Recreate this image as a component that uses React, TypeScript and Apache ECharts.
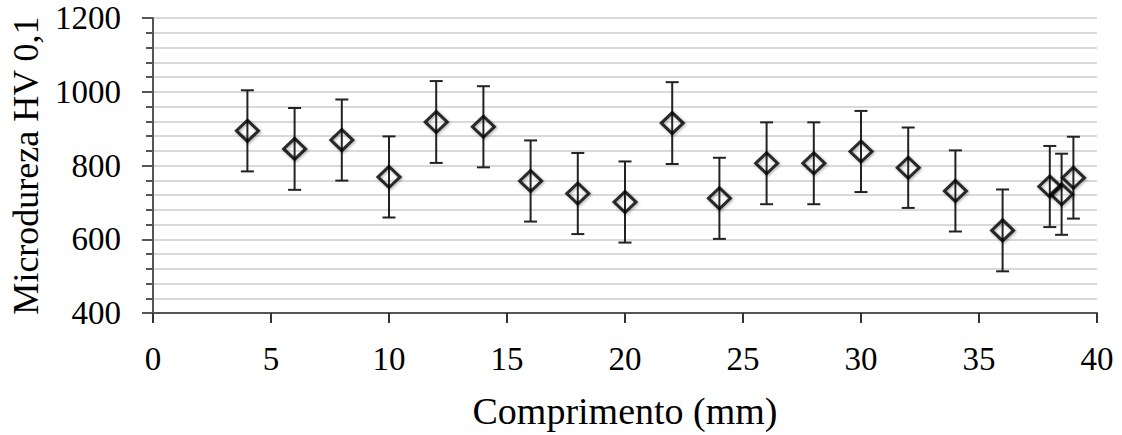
import React, { useEffect, useRef } from "react";
import * as echarts from "echarts";

const positions = [4, 6, 8, 10, 12, 14, 16, 18, 20, 22, 24, 26, 28, 30, 32, 34, 36, 38, 38.5, 39];
const hardness = [894, 845, 869, 769, 918, 905, 758, 724, 701, 915, 711, 806, 806, 838, 794, 731, 624, 743, 722, 767];
const errors = [110, 111, 110, 110, 111, 110, 110, 110, 110, 111, 110, 111, 111, 110, 109, 110, 111, 110, 110, 111];
const xTicks = [0, 5, 10, 15, 20, 25, 30, 35, 40];
const yTicks = [400, 600, 800, 1000, 1200];

const FONT = "Liberation Serif";

export default function App() {
  const ref = useRef<HTMLDivElement>(null);
  useEffect(() => {
    document.body.style.margin = "0";
    if (!ref.current) return;
    const chart = echarts.init(ref.current, null, { renderer: "svg" });
    const points = positions.map((x, i) => [x, hardness[i]]);
    const bars = positions.map((x, i) => [x, hardness[i] - errors[i], hardness[i] + errors[i]]);
    chart.setOption({
      animation: false,
      backgroundColor: "#ffffff",
      textStyle: { fontFamily: FONT },
      grid: { left: 151, right: 25, top: 18, bottom: 122, containLabel: false },
      xAxis: {
        type: "value",
        min: xTicks[0],
        max: xTicks[xTicks.length - 1],
        interval: 5,
        name: "Comprimento (mm)",
        nameLocation: "middle",
        nameGap: 79,
        nameTextStyle: { fontFamily: FONT, fontSize: 38, color: "#000" },
        axisLine: { show: true, onZero: false, lineStyle: { color: "#555", width: 2 } },
        axisTick: { show: true, length: 10, lineStyle: { color: "#333", width: 2 } },
        axisLabel: { fontFamily: FONT, fontSize: 33, color: "#000", margin: 29, formatter: (v: number) => String(v) },
        splitLine: { show: false },
      },
      yAxis: {
        type: "value",
        min: yTicks[0],
        max: yTicks[yTicks.length - 1],
        interval: 200,
        name: "Microdureza HV 0,1",
        nameLocation: "middle",
        nameGap: 109,
        nameTextStyle: { fontFamily: FONT, fontSize: 36, color: "#000" },
        axisLine: { show: true, onZero: false, lineStyle: { color: "#555", width: 2 } },
        axisTick: { show: true, length: 11, lineStyle: { color: "#555", width: 2 } },
        minorTick: { show: true, splitNumber: 5, length: 7, lineStyle: { color: "#555", width: 2 } },
        axisLabel: { fontFamily: FONT, fontSize: 33, color: "#000", margin: 32, formatter: (v: number) => String(v) },
        splitLine: { show: true, lineStyle: { color: "#d9d9d9", width: 2 } },
        minorSplitLine: { show: true, lineStyle: { color: "#d9d9d9", width: 2 } },
      },
      series: [
        {
          type: "custom",
          data: bars,
          z: 2,
          renderItem: (params: any, api: any) => {
            const x = api.value(0);
            const lo = api.coord([x, api.value(1)]);
            const hi = api.coord([x, api.value(2)]);
            const cap = 6.5;
            const style = { stroke: "#222", lineWidth: 2 };
            return {
              type: "group",
              children: [
                { type: "line", shape: { x1: lo[0], y1: lo[1], x2: hi[0], y2: hi[1] }, style },
                { type: "line", shape: { x1: lo[0] - cap, y1: lo[1], x2: lo[0] + cap, y2: lo[1] }, style },
                { type: "line", shape: { x1: hi[0] - cap, y1: hi[1], x2: hi[0] + cap, y2: hi[1] }, style },
              ],
            };
          },
        },
        {
          type: "scatter",
          data: points,
          z: 3,
          symbol: "diamond",
          symbolSize: [22, 21],
          itemStyle: {
            color: "rgba(255,255,255,0)",
            borderColor: "#000",
            borderWidth: 3,
            shadowBlur: 3,
            shadowColor: "rgba(0,0,0,0.45)",
            shadowOffsetX: 1,
            shadowOffsetY: 1,
          },
        },
      ],
    });
    return () => chart.dispose();
  }, []);
  return <div ref={ref} style={{ width: 1122, height: 435 }} />;
}
